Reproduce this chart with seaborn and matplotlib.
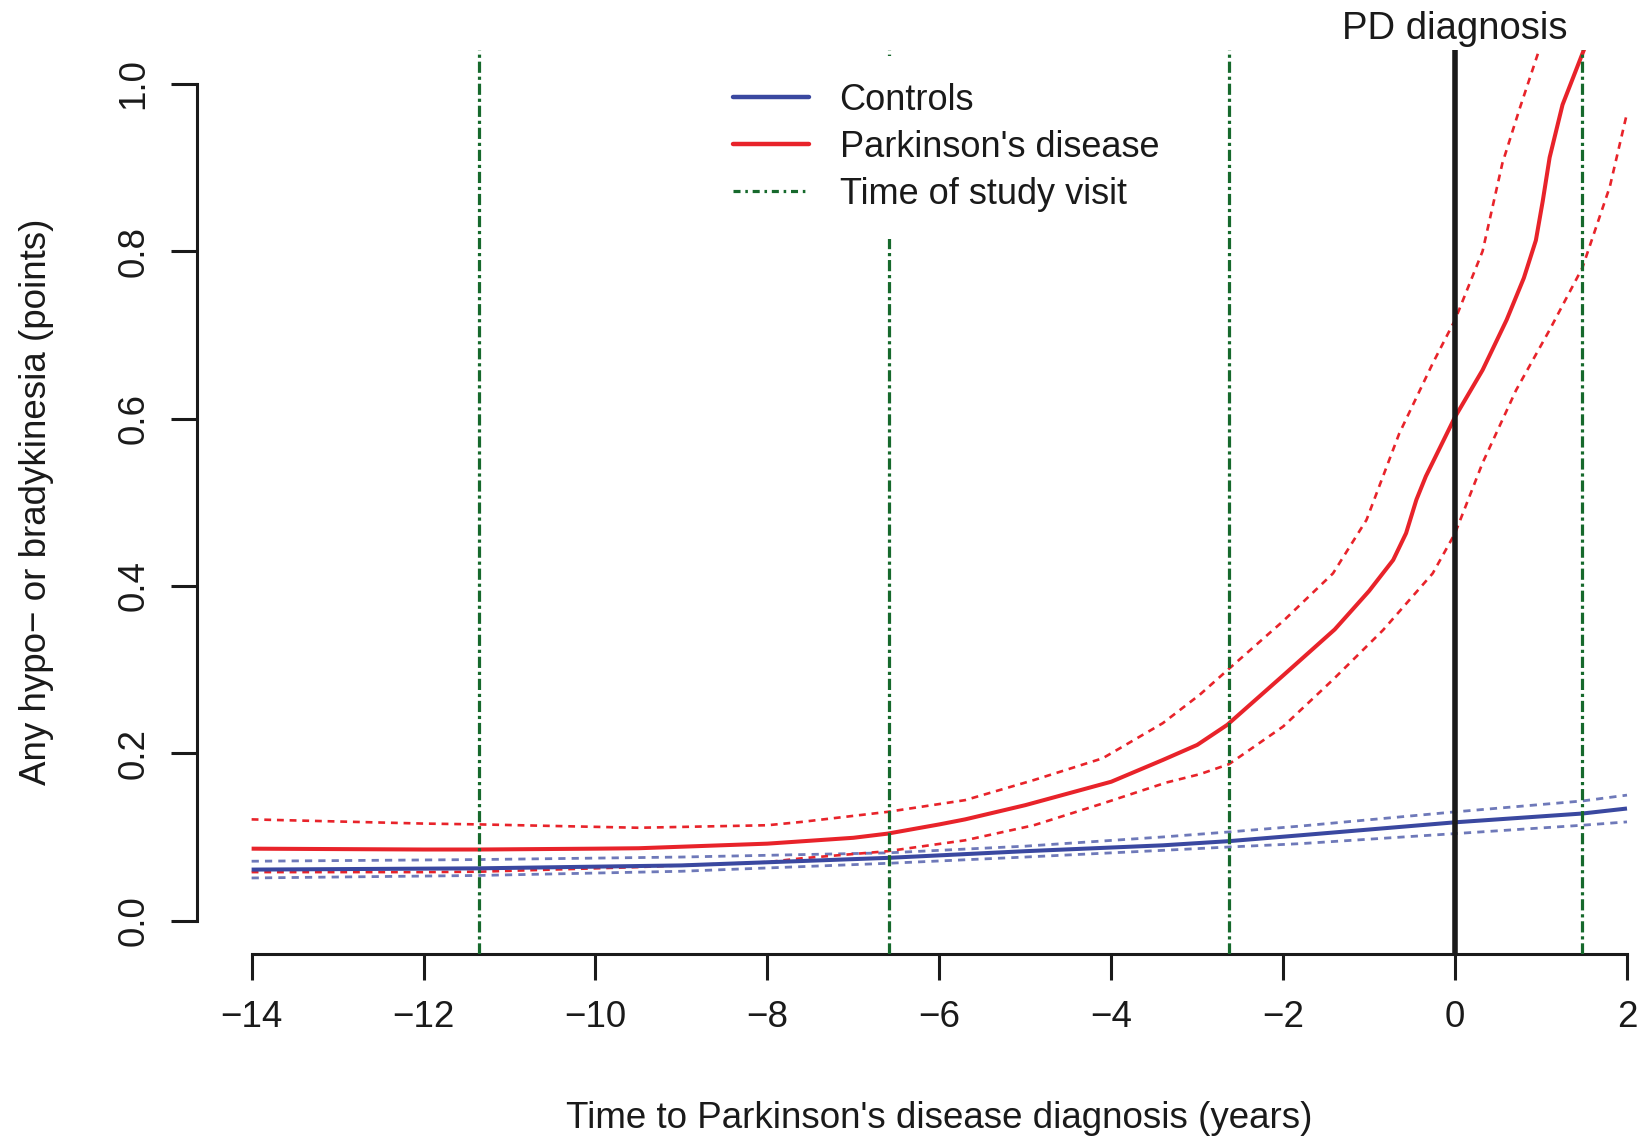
import matplotlib
matplotlib.use("Agg")
import matplotlib.pyplot as plt
import seaborn as sns
import numpy as np
import pandas as pd
from matplotlib.lines import Line2D

# ---------------- data ----------------
pd_x = [-14, -12, -11.35, -10, -9.5, -8, -7, -6.6, -6, -5.7, -5, -4, -3.4, -3, -2.65,
        -2, -1.4, -1.0, -0.72, -0.57, -0.45, -0.34, 0, 0.32, 0.6, 0.8, 0.94, 1.02, 1.1, 1.25, 1.5, 1.6]
pd_y = [0.086, 0.085, 0.085, 0.086, 0.0865, 0.092, 0.099, 0.104, 0.115, 0.121, 0.138, 0.166, 0.192,
        0.210, 0.234, 0.293, 0.348, 0.394, 0.431, 0.463, 0.503, 0.531, 0.602, 0.658, 0.718, 0.768,
        0.813, 0.86, 0.912, 0.975, 1.041, 1.066]

pd_up_x = [-14, -12, -11.35, -9.5, -8, -7.6, -6.6, -5.7, -4.9, -4.1, -3.4, -2.97, -2.63, -2.0,
           -1.42, -1.03, -0.65, -0.26, 0, 0.32, 0.55, 0.75, 0.96, 1.1]
pd_up_y = [0.121, 0.116, 0.115, 0.111, 0.114, 0.118, 0.130, 0.144, 0.168, 0.194, 0.236, 0.270,
           0.301, 0.358, 0.415, 0.479, 0.582, 0.666, 0.718, 0.800, 0.905, 0.970, 1.035, 1.080]

pd_lo_x = [-14, -12, -11.35, -9.5, -8, -7.6, -6.6, -5.7, -4.9, -4.1, -3.36, -2.97, -2.63, -2.0,
           -1.42, -0.84, -0.26, 0, 0.32, 0.71, 1.10, 1.48, 1.80, 2.0]
pd_lo_y = [0.058, 0.058, 0.0585, 0.064, 0.070, 0.0745, 0.083, 0.096, 0.114, 0.140, 0.165, 0.175,
           0.187, 0.232, 0.288, 0.347, 0.415, 0.463, 0.547, 0.634, 0.706, 0.780, 0.877, 0.965]

ctrl_x = [-14, -11.35, -9, -6.6, -5, -3.4, -2.63, -1.8, 0, 1.48, 2]
ctrl_y = [0.061, 0.0625, 0.066, 0.075, 0.083, 0.090, 0.095, 0.102, 0.1175, 0.128, 0.134]
ctrl_up_y = [0.071, 0.073, 0.076, 0.081, 0.089, 0.100, 0.106, 0.113, 0.130, 0.143, 0.150]
ctrl_lo_y = [0.051, 0.054, 0.059, 0.0685, 0.076, 0.084, 0.088, 0.092, 0.104, 0.114, 0.118]

visit_times = [-11.35, -6.58, -2.63, 1.48]
diagnosis_time = 0

x_ticks = [-14, -12, -10, -8, -6, -4, -2, 0, 2]
y_ticks = [0.0, 0.2, 0.4, 0.6, 0.8, 1.0]
y_ticklabels = ["0.0", "0.2", "0.4", "0.6", "0.8", "1.0"]
legend_labels = ["Controls", "Parkinson's disease", "Time of study visit"]

# ---------------- style ----------------
sns.set_style("ticks")
plt.rcParams['font.family'] = ['Liberation Sans', 'DejaVu Sans']
FS = 26.5

RED = "#E8232A"
BLUE = "#3A48A0"
BLUE_CI = "#4a57a8"
GREEN = "#16692C"

fig = plt.figure(figsize=(16.44, 11.41), dpi=100)
ax = fig.add_axes([0.11959, 0.16380, 0.90353, 0.79203])

def line(x, y, color, lw, ls, alpha=1.0, z=3):
    df = pd.DataFrame({"x": x, "y": y})
    n0 = len(ax.lines)
    sns.lineplot(data=df, x="x", y="y", ax=ax, color=color, lw=lw, estimator=None,
                 sort=True, alpha=alpha, zorder=z)
    for ln in ax.lines[n0:]:
        ln.set_linestyle(ls)
        ln.set_solid_capstyle("butt")
        ln.set_solid_joinstyle("round")

dash = (0, (2.6, 2.2))
line(ctrl_x, ctrl_up_y, BLUE_CI, 2.0, dash, alpha=0.8)
line(ctrl_x, ctrl_lo_y, BLUE_CI, 2.0, dash, alpha=0.8)
line(pd_up_x, pd_up_y, RED, 1.9, dash)
line(pd_lo_x, pd_lo_y, RED, 1.9, dash)
line(ctrl_x, ctrl_y, BLUE, 2.9, "-")
line(pd_x, pd_y, RED, 2.9, "-")

green_ls = (0, (3.5, 1.2, 1.0, 1.2))
for v in visit_times:
    ax.axvline(v, color=GREEN, lw=2.3, linestyle=green_ls, zorder=4)
ax.axvline(diagnosis_time, color="#1a1a1a", lw=4.0, zorder=4)

ax.set_xlim(-14.64, 2.64)
ax.set_ylim(-0.04, 1.04)

ax.set_xticks(x_ticks)
ax.set_xticklabels([str(t).replace("-", "\u2212") for t in x_ticks])
ax.set_yticks(y_ticks)
ax.set_yticklabels(y_ticklabels, rotation=90, va="center")

for s in ["top", "right"]:
    ax.spines[s].set_visible(False)
ax.spines["bottom"].set_bounds(-14, 2)
ax.spines["left"].set_bounds(0, 1)
for s in ["bottom", "left"]:
    ax.spines[s].set_linewidth(2.2)
    ax.spines[s].set_color("#1a1a1a")
ax.tick_params(axis="both", length=18.7, width=2.2, color="#1a1a1a",
               labelsize=FS, pad=14, labelcolor="#1a1a1a")

ax.set_xlabel("Time to Parkinson's disease diagnosis (years)", fontsize=FS, color="#1a1a1a", va="center")
ax.xaxis.set_label_coords(0.5, -0.182)
ax.set_ylabel("Any hypo\u2212 or bradykinesia (points)", fontsize=FS, color="#1a1a1a", va="center")
ax.yaxis.set_label_coords(-0.1077, 0.5)

ax.text(diagnosis_time, 1.066, "PD diagnosis", ha="center", va="center", fontsize=27.5,
        color="#1a1a1a", clip_on=False)

handles = [Line2D([], [], color=BLUE, lw=3.2),
           Line2D([], [], color=RED, lw=3.2),
           Line2D([], [], color=GREEN, lw=2.3, linestyle=(0, (2.2, 1.5, 0.8, 1.5)))]
leg = fig.legend(handles, legend_labels, loc="upper left",
                 bbox_to_anchor=(706 / 1644, 1 - 56 / 1141), bbox_transform=fig.transFigure,
                 frameon=True, fancybox=False, framealpha=1, facecolor="white",
                 edgecolor="none", fontsize=26, borderpad=0.75, handlelength=2.1,
                 handletextpad=0.85, labelspacing=0.33, borderaxespad=0)
leg.set_zorder(10)
for t in leg.get_texts():
    t.set_color("#1a1a1a")

fig.savefig("out.png", dpi=100)
